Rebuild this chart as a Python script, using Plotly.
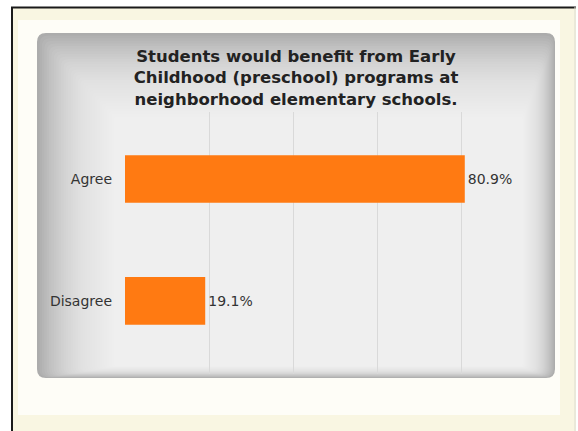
import plotly.graph_objects as go

# ---- data ----
categories = ["Agree", "Disagree"]
percentages = [80.9, 19.1]
value_labels = ["80.9%", "19.1%"]
grid_ticks = [0, 20, 40, 60, 80]
title_lines = [
    "Students would benefit from Early",
    "Childhood (preschool) programs at",
    "neighborhood elementary schools.",
]

# ---- geometry helpers (pixel -> paper) ----
W, H = 578, 431
ML, MR, MT, MB = 125, 33, 112, 57
PW = W - ML - MR
PH = H - MT - MB


def px(x):
    return (x - ML) / PW


def py(y):
    return (H - MB - y) / PH


def rrect_path(x0, y0, x1, y1, r):
    pts = [
        ("M", [(x0 + r, y0)]),
        ("L", [(x1 - r, y0)]),
        ("Q", [(x1, y0), (x1, y0 + r)]),
        ("L", [(x1, y1 - r)]),
        ("Q", [(x1, y1), (x1 - r, y1)]),
        ("L", [(x0 + r, y1)]),
        ("Q", [(x0, y1), (x0, y1 - r)]),
        ("L", [(x0, y0 + r)]),
        ("Q", [(x0, y0), (x0 + r, y0)]),
    ]
    s = ""
    for cmd, ps in pts:
        s += cmd + " " + " ".join(f"{px(a):.5f},{py(b):.5f}" for a, b in ps) + " "
    return s + "Z"


def rect(x0, y0, x1, y1, fill):
    return dict(
        type="rect", xref="paper", yref="paper", layer="below",
        x0=px(x0), x1=px(x1), y0=py(y1), y1=py(y0),
        fillcolor=fill, line=dict(width=0),
    )


def hline(x0, x1, y, color, width):
    return dict(type="line", xref="paper", yref="paper", layer="below",
                x0=px(x0), x1=px(x1), y0=py(y), y1=py(y),
                line=dict(color=color, width=width))


def vline(x, y0, y1, color, width):
    return dict(type="line", xref="paper", yref="paper", layer="below",
                x0=px(x), x1=px(x), y0=py(y0), y1=py(y1),
                line=dict(color=color, width=width))


shapes = []
# cream frame
shapes.append(rect(12, 7, 576, 445, "#f9f6e2"))
# white inner card
shapes.append(rect(18, 20, 560, 415, "#fefdf7"))
# frame borders
shapes.append(hline(11, 576, 7.5, "#1a1a1a", 2))
shapes.append(vline(12, 7, 445, "#1a1a1a", 2))
shapes.append(vline(575, 7, 445, "#dcdcd0", 1))

# gray panel with soft gradient (stacked translucent layers)
PX0, PY0, PX1, PY1 = 37, 33, 555, 378
shapes.append(dict(type="path", xref="paper", yref="paper", layer="below",
                   path=rrect_path(PX0, PY0, PX1, PY1, 9),
                   fillcolor="#acacac", line=dict(width=0)))
N = 32
for i in range(1, N + 1):
    x0 = PX0 + i * 2.4
    y0 = PY0 + i * 2.6
    x1 = PX1 - i * 1.0
    y1 = PY1 - i * 0.35
    shapes.append(dict(type="path", xref="paper", yref="paper", layer="below",
                       path=rrect_path(x0, y0, x1, y1, max(9 - i * 0.2, 3)),
                       fillcolor="rgba(255,255,255,0.062)", line=dict(width=0)))

fig = go.Figure(
    go.Bar(
        x=percentages,
        y=categories,
        orientation="h",
        width=0.39,
        marker=dict(color="#ff7a12", line=dict(width=0)),
        text=value_labels,
        textposition="outside",
        textfont=dict(family="DejaVu Sans", size=14, color="#333333"),
        cliponaxis=False,
        hoverinfo="skip",
    )
)

fig.update_layout(
    width=W,
    height=H,
    margin=dict(l=ML, r=MR, t=MT, b=MB),
    paper_bgcolor="white",
    plot_bgcolor="rgba(0,0,0,0)",
    showlegend=False,
    shapes=shapes,
    title=dict(
        text="<b>" + "<br>".join(title_lines) + "</b>",
        font=dict(family="DejaVu Sans", size=16.5, color="#222222"),
        x=296 / W, xref="container", xanchor="center",
        y=1 - 62 / H, yref="container", yanchor="middle",
    ),
    xaxis=dict(
        range=[0, 100],
        tickvals=grid_ticks,
        showticklabels=False,
        showgrid=True,
        gridcolor="#d9d9d9",
        gridwidth=1,
        zeroline=False,
        showline=False,
        fixedrange=True,
    ),
    yaxis=dict(
        type="category",
        categoryorder="array",
        categoryarray=categories,
        range=[1.6, -0.55],
        showgrid=False,
        zeroline=False,
        showline=False,
        ticks="",
        ticklabelstandoff=12,
        tickfont=dict(family="DejaVu Sans", size=14, color="#333333"),
        fixedrange=True,
    ),
)

fig.write_html(
    "out.html",
    config={"displayModeBar": False},
    post_script="document.body.style.margin='0';document.body.style.padding='0';",
)
